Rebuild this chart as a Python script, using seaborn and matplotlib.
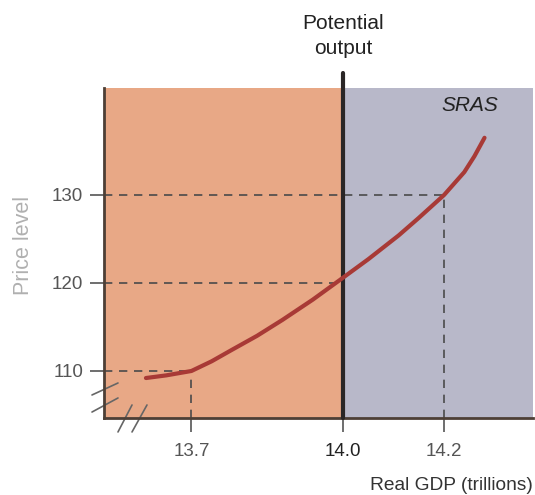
import seaborn as sns
import matplotlib.pyplot as plt
import pandas as pd
import numpy as np

# SRAS curve
gdp = [13.61, 13.65, 13.70, 13.74, 13.78, 13.83, 13.88, 13.94, 14.00,
       14.05, 14.11, 14.15, 14.20, 14.24, 14.26, 14.28]
price = [109.2, 109.5, 110.0, 111.1, 112.4, 114.0, 115.8, 118.1, 120.6,
         122.7, 125.4, 127.4, 130.0, 132.6, 134.4, 136.5]

potential = 14.0
xticks = [13.7, 14.0, 14.2]
yticks = [110, 120, 130]
# reference points (gdp, price) used for dashed guides
guides_x = [13.7, 14.0, 14.2]
guides_y = [110, 120, 130]

df = pd.DataFrame({"gdp": gdp, "price": price})

sns.set_style("white")
plt.rcParams["font.family"] = ["Liberation Sans", "DejaVu Sans"]

fig = plt.figure(figsize=(5.35, 4.95), dpi=100)
ax = fig.add_axes([0.1944, 0.1556, 0.8019, 0.6667])
xmin, xmax = 13.527, 14.376
ymin, ymax = 104.66, 142.16
ax.set_xlim(xmin, xmax)
ax.set_ylim(ymin, ymax)

ax.axvspan(xmin, potential, color="#e8a886", zorder=0, lw=0)
ax.axvspan(potential, xmax, color="#b8b8c9", zorder=0, lw=0)

# dashed guides
dash = dict(color="#4a4a4a", lw=1.2, ls=(0, (5, 4)), zorder=2)
for gx, gy in zip(guides_x, guides_y):
    ax.plot([xmin, gx], [gy, gy], **dash)
for gx, gy in zip(guides_x, guides_y):
    if gx != potential:
        ax.plot([gx, gx], [ymin, gy], **dash)

ax.axvline(potential, ymin=0, ymax=1.045, color="#2a2626", lw=3,
           clip_on=False, zorder=3)

sns.lineplot(data=df, x="gdp", y="price", ax=ax, color="#a83a36",
             lw=3, zorder=4)

ax.text(14.25, 140.2, "SRAS", fontsize=15, style="italic",
        color="#222222", ha="center", va="center")

ax.set_xticks(xticks)
ax.set_xticklabels(["13.7", "14.0", "14.2"])
ax.set_yticks(yticks)
ax.set_yticklabels(["110", "120", "130"])
for lab in ax.get_xticklabels():
    lab.set_color("#222222" if lab.get_text() == "14.0" else "#555555")
for lab in ax.get_yticklabels():
    lab.set_color("#555555")
ax.tick_params(axis="both", length=10, width=1.2, color="#555555",
               labelsize=13.5, pad=5, direction="out",
               left=True, bottom=True)
ax.tick_params(axis="x", pad=8)

ax.set_xlabel("")
ax.set_ylabel("")
for s in ["top", "right"]:
    ax.spines[s].set_visible(False)
for s in ["left", "bottom"]:
    ax.spines[s].set_color("#4d3f36")
    ax.spines[s].set_linewidth(2)

# axis break marks
brk = dict(color="#666666", lw=1.2, clip_on=False, transform=ax.transAxes)
ax.plot([-0.028, 0.0326], [0.0697, 0.106], **brk)
ax.plot([-0.028, 0.0326], [0.018, 0.0606], **brk)
ax.plot([0.0326, 0.0653], [-0.0424, 0.0394], **brk)
ax.plot([0.0653, 0.1002], [-0.0424, 0.0394], **brk)

fig.text(24 / 535, 1 - 245 / 495, "Price level", rotation=90, fontsize=15.5,
         color="#b0b0b0", ha="center", va="center")
fig.text(533 / 535, 1 - 485 / 495, "Real GDP (trillions)", fontsize=13.8,
         color="#333333", ha="right", va="center")
fig.text(343 / 535, 1 - 36 / 495, "Potential\noutput", fontsize=15,
         color="#222222", ha="center", va="center", linespacing=1.4)

fig.savefig("out.png", dpi=100)
